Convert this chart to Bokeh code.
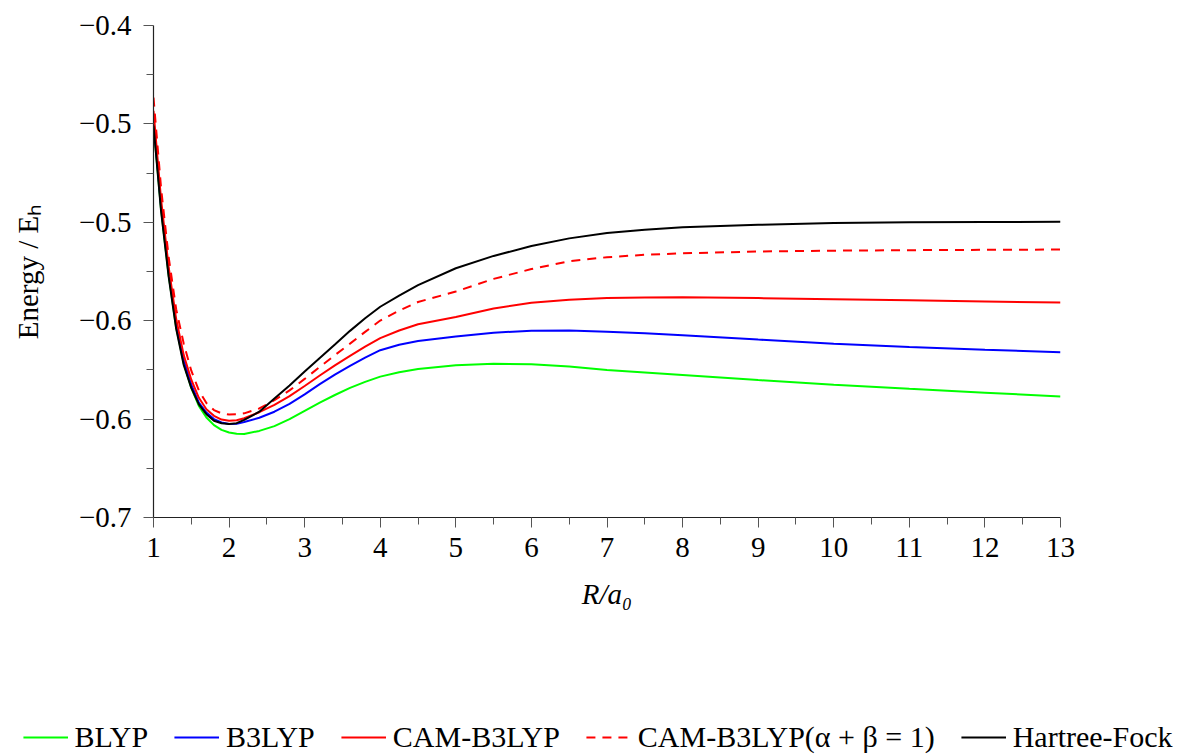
from bokeh.plotting import figure
from bokeh.models import FixedTicker, Legend, LegendItem, Range1d
from bokeh.embed import file_html
from bokeh.resources import INLINE

# Internuclear distance R / a0
R = [1.0, 1.1, 1.2, 1.3, 1.4, 1.5, 1.6, 1.7, 1.8, 1.9, 2.0, 2.1, 2.2, 2.4, 2.6, 2.8,
     3.0, 3.2, 3.4, 3.6, 3.8, 4.0, 4.25, 4.5, 5.0, 5.5, 6.0, 6.5, 7.0, 7.5, 8.0,
     9.0, 10.0, 11.0, 12.0, 13.0]

# Total energies (E_h) for each method
e_blyp = [-0.460, -0.512, -0.552, -0.584, -0.606, -0.621, -0.632, -0.639, -0.6437, -0.6466,
          -0.6482, -0.6490, -0.6491, -0.6472, -0.6443, -0.6400,
          -0.6350, -0.6300, -0.6253, -0.6210, -0.6173, -0.6141, -0.6114, -0.6094, -0.6071,
          -0.6062, -0.6066, -0.6080, -0.6101, -0.6116, -0.6131,
          -0.6162, -0.6190, -0.6215, -0.6239, -0.6262]
e_b3lyp = [-0.458, -0.510, -0.550, -0.582, -0.604, -0.619, -0.630, -0.636, -0.640, -0.642,
           -0.643, -0.6428, -0.6418, -0.6392, -0.6355, -0.6307,
           -0.6249, -0.6187, -0.6129, -0.6075, -0.6025, -0.5980, -0.5947, -0.5924, -0.5896,
           -0.5873, -0.5861, -0.5860, -0.5867, -0.5877, -0.5888,
           -0.5915, -0.5940, -0.5960, -0.5977, -0.5992]
e_cam = [-0.452, -0.506, -0.547, -0.579, -0.601, -0.616, -0.627, -0.634, -0.638, -0.6403,
         -0.641, -0.6407, -0.6395, -0.6358, -0.6313, -0.6260,
         -0.6198, -0.6134, -0.6072, -0.6014, -0.5958, -0.5906, -0.5860, -0.5822, -0.5777,
         -0.5725, -0.5690, -0.5672, -0.5662, -0.5658, -0.5657,
         -0.5662, -0.5669, -0.5676, -0.5683, -0.5689]
e_cam_ab1 = [-0.444, -0.499, -0.541, -0.573, -0.594, -0.6105, -0.6225, -0.6302, -0.6345, -0.6365,
             -0.6372, -0.6371, -0.6365, -0.6335, -0.6285, -0.6225,
             -0.6155, -0.6082, -0.6010, -0.5940, -0.5868, -0.5799, -0.5738, -0.5686, -0.5622,
             -0.5545, -0.5485, -0.5437, -0.5413, -0.5398, -0.5389,
             -0.5378, -0.5373, -0.5370, -0.5368, -0.5366]
e_hf = [-0.461, -0.513, -0.553, -0.585, -0.607, -0.621, -0.631, -0.637, -0.641, -0.6425,
        -0.643, -0.6425, -0.6405, -0.6355, -0.6275, -0.6195,
        -0.6110, -0.6027, -0.5945, -0.5862, -0.5785, -0.5715, -0.5647, -0.5583, -0.5480,
        -0.5405, -0.5345, -0.5298, -0.5265, -0.5245, -0.5230,
        -0.5215, -0.5205, -0.5200, -0.5198, -0.5197]

# Axis ticks
x_ticks = [1, 2, 3, 4, 5, 6, 7, 8, 9, 10, 11, 12, 13]
x_minor = [1.5, 2.5, 3.5, 4.5, 5.5, 6.5, 7.5, 8.5, 9.5, 10.5, 11.5, 12.5]
y_ticks = [-0.7, -0.64, -0.58, -0.52, -0.46, -0.4]
y_minor = [-0.67, -0.61, -0.55, -0.49, -0.43]
y_tick_labels = ["\u22120.7", "\u22120.6", "\u22120.6", "\u22120.5", "\u22120.5", "\u22120.4"]

FONT = "Liberation Serif"
FS = "29px"
LEGEND_H = 60

p = figure(width=1195, height=755 - LEGEND_H, output_backend="svg", toolbar_location=None,
           x_range=Range1d(1, 13), y_range=Range1d(-0.7, -0.4),
           min_border_left=153, min_border_right=135, min_border_top=25,
           min_border_bottom=755 - LEGEND_H - 517)
p.outline_line_color = None
p.xgrid.visible = False
p.ygrid.visible = False

series = [
    ("BLYP", e_blyp, "#00ff00", "solid"),
    ("B3LYP", e_b3lyp, "#0000ff", "solid"),
    ("CAM-B3LYP", e_cam, "#ff0000", "solid"),
    ("CAM-B3LYP(\u03b1 + \u03b2 = 1)", e_cam_ab1, "#ff0000", "9 7"),
    ("Hartree-Fock", e_hf, "#000000", "solid"),
]

# key strip rendered as its own root under the chart, frame spanning the full width
leg = figure(width=1195, height=LEGEND_H, output_backend="svg", toolbar_location=None,
             x_range=p.x_range, y_range=p.y_range, x_axis_location=None,
             y_axis_location=None, min_border=0)
leg.outline_line_color = None
leg.xgrid.visible = False
leg.ygrid.visible = False

items = []
for name, ys, color, dash in series:
    p.line(R, ys, line_color=color, line_width=2, line_dash=dash)
    key = leg.line(R, ys, line_color=color, line_width=2, line_dash=dash, visible=False)
    items.append(LegendItem(label=name, renderers=[key]))

for ax in (p.xaxis[0], p.yaxis[0]):
    ax.axis_line_color = "#222222"
    ax.axis_line_width = 1.2
    ax.major_tick_line_color = "#555555"
    ax.minor_tick_line_color = "#555555"
    ax.major_tick_in = 0
    ax.major_tick_out = 10
    ax.minor_tick_in = 0
    ax.minor_tick_out = 7
    ax.major_label_text_font = FONT
    ax.major_label_text_font_size = FS
    ax.major_label_text_color = "black"
    ax.axis_label_text_font = FONT
    ax.axis_label_text_font_size = FS
    ax.axis_label_text_color = "black"

p.xaxis.ticker = FixedTicker(ticks=x_ticks, minor_ticks=x_minor)
p.xaxis.major_label_standoff = 10
p.xaxis.axis_label = "R/a\u2080"
p.xaxis.axis_label_text_font_style = "italic"
p.xaxis.axis_label_standoff = 18

p.yaxis.ticker = FixedTicker(ticks=y_ticks, minor_ticks=y_minor)
p.yaxis.major_label_overrides = dict(zip(y_ticks, y_tick_labels))
p.yaxis.major_label_standoff = 12
p.yaxis.axis_label = "Energy / E\u2095"
p.yaxis.axis_label_text_font_style = "normal"
p.yaxis.axis_label_standoff = 32

legend = Legend(items=items, orientation="horizontal", location="bottom_center", margin=1,
                glyph_width=45, glyph_height=30, label_height=30, label_standoff=7,
                spacing=26, padding=0, border_line_color=None,
                background_fill_alpha=0, label_text_font=FONT, label_text_font_size="30px",
                label_text_color="black")
leg.add_layout(legend)

open("out.html", "w").write(file_html([p, leg], INLINE))
